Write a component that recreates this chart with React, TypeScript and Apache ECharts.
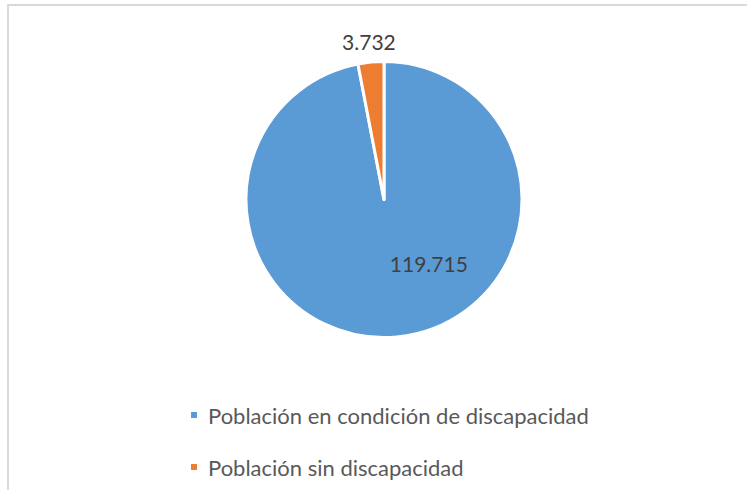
import React, { useEffect, useRef } from "react";
import * as echarts from "echarts";

const categories = ["Población en condición de discapacidad", "Población sin discapacidad"];
const values = [119715, 3732];
const colors = ["#5B9BD5", "#ED7D31"];

const fmt = (v: number) => String(v).replace(/\B(?=(\d{3})+(?!\d))/g, ".");

export default function App() {
  const ref = useRef<HTMLDivElement>(null);
  useEffect(() => {
    document.body.style.margin = "0";
    const chart = echarts.init(ref.current!, undefined, { renderer: "svg" });
    chart.setOption({
      animation: false,
      backgroundColor: "#ffffff",
      color: colors,
      graphic: [
        { type: "line", shape: { x1: 7, y1: 5, x2: 747, y2: 5 }, style: { stroke: "#d9d9d9", lineWidth: 2 } },
        { type: "line", shape: { x1: 8, y1: 5, x2: 8, y2: 490 }, style: { stroke: "#d9d9d9", lineWidth: 2 } },
      ],
      legend: {
        orient: "vertical",
        left: 189,
        top: 403,
        padding: 0,
        itemWidth: 8,
        itemHeight: 8,
        itemGap: 28,
        icon: "rect",
        data: categories,
        textStyle: {
          fontFamily: "Lato",
          fontSize: 22,
          color: "#595959",
          lineHeight: 24,
          padding: [0, 0, 0, 5],
        },
      },
      series: [
        {
          type: "pie",
          center: [384, 199.5],
          radius: 138,
          startAngle: 90,
          clockwise: true,
          silent: true,
          itemStyle: { borderColor: "#ffffff", borderWidth: 3 },
          labelLine: { show: false, length: 21, length2: 0 },
          label: {
            fontFamily: "Lato",
            fontSize: 21,
            color: "#404040",
            formatter: (p: any) => fmt(p.value),
            distanceToLabelLine: 0,
          },
          labelLayout: (p: any) =>
            p.dataIndex === 1 ? { align: "center", verticalAlign: "middle" } : { dx: 38, dy: -8 },
          data: categories.map((name, i) => ({
            name,
            value: values[i],
            label: { position: i === 0 ? "inside" : "outside" },
          })),
        },
      ],
    });
    return () => chart.dispose();
  }, []);
  return <div ref={ref} style={{ width: 747, height: 490 }} />;
}
